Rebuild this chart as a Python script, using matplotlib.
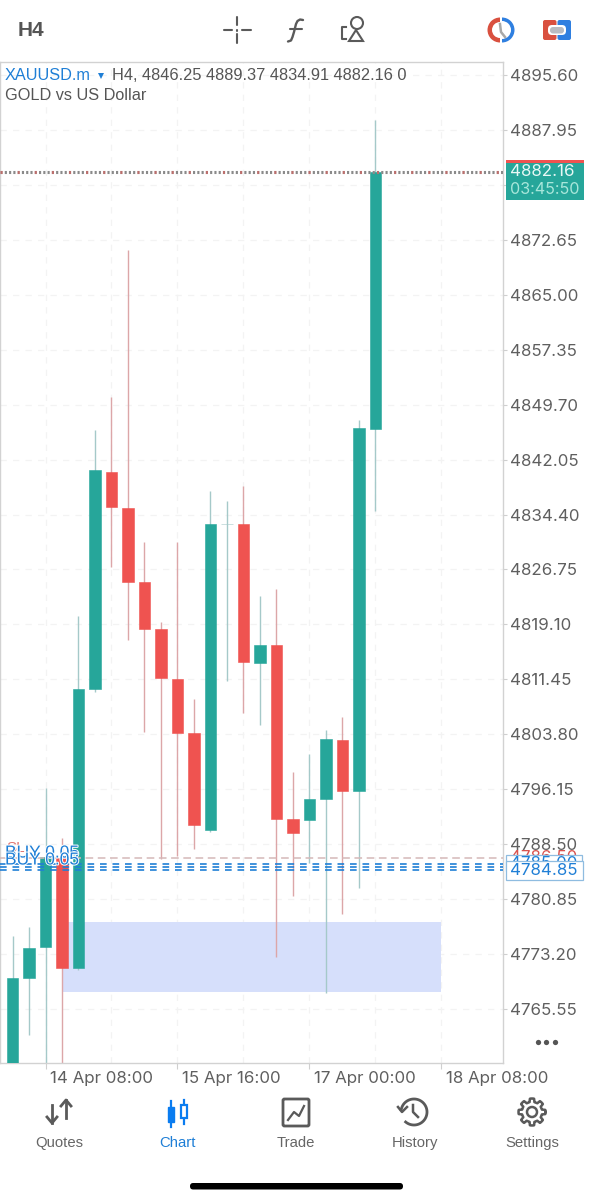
import numpy as np
import matplotlib as mpl
mpl.use('Agg')
import matplotlib.pyplot as plt
import matplotlib.patches as patches
import matplotlib.patheffects as pe

# candles, H4
opens  = [4750.00,4769.80,4774.18,4786.55,4771.26,4810.11,4840.32,4835.31,4825.00,4818.46,4811.50,4803.98,
          4790.47,4833.10,4833.08,4813.73,4816.23,4792.01,4791.87,4794.79,4803.01,4795.90,4846.25]
highs  = [4775.71,4776.97,4796.32,4789.36,4820.27,4846.17,4850.76,4871.23,4830.57,4819.44,4830.57,4808.71,
          4837.68,4836.28,4838.37,4823.06,4824.03,4798.55,4801.06,4804.40,4806.21,4847.56,4889.37]
lows   = [4750.00,4761.93,4750.00,4750.00,4771.00,4809.69,4827.09,4816.93,4804.12,4786.44,4786.85,4787.83,
          4790.20,4811.22,4806.76,4805.09,4772.79,4781.28,4785.88,4767.78,4778.78,4782.40,4834.91]
closes = [4769.87,4774.11,4786.71,4771.26,4810.11,4840.60,4835.45,4825.00,4818.46,4811.64,4803.98,4791.17,
          4833.08,4833.14,4813.87,4816.23,4792.01,4790.06,4794.79,4803.14,4795.90,4846.45,4882.16]

price_ticks = [4895.60,4887.95,4880.30,4872.65,4865.00,4857.35,4849.70,4842.05,4834.40,4826.75,
               4819.10,4811.45,4803.80,4796.15,4788.50,4780.85,4773.20,4765.55]
time_pos    = [2,10,18,26]
time_labels = ['14 Apr 08:00','15 Apr 16:00','17 Apr 00:00','18 Apr 08:00']
grid_pos    = [2,6,10,14,18,22,26]

zone_x   = [3,26]
zone_y   = [4767.92,4777.60]
sl_price = 4786.60
buy_prices = [4785.74,4785.32,4784.85]

GREEN='#26a69a'
RED='#ef5350'
GREEN_W='#a5c9c9'
RED_W='#dca6a8'
BLUE='#1f7fd6'
GREY='#5f5f5f'
SANS='Liberation Sans'

fig = plt.figure(figsize=(5.91,12),dpi=100,facecolor='white')
ax = fig.add_axes([0,(1200-1063)/1200,503/591,(1063-62)/1200])
ax.set_xlim(-0.758,29.73)
ax.set_ylim(4758.03,4897.41)

ax.yaxis.tick_right()
ax.set_yticks(price_ticks)
ax.set_yticklabels(['%.2f'%p for p in price_ticks],family='Inter',fontsize=12.2,color=GREY)
ax.set_xticks(time_pos)
ax.set_xticklabels(time_labels,family='Inter',fontsize=12.2,color=GREY,ha='left')
ax.tick_params(axis='y',length=3,width=0.8,color='#cfcfcf',pad=2.2)
ax.tick_params(axis='x',length=4,width=0.8,color='#cfcfcf',pad=2)
for lab in ax.get_xticklabels():
    lab.set_transform(lab.get_transform()+mpl.transforms.ScaledTranslation(4.5/100,0,fig.dpi_scale_trans))
for s in ax.spines.values():
    s.set_color('#d2d2d2')
    s.set_linewidth(1.0)

for y in price_ticks:
    ax.axhline(y,color='#f3f3f3',lw=0.9,ls=(0,(5,5)),zorder=0)
for x in grid_pos:
    ax.axvline(x,color='#f3f3f3',lw=0.9,ls=(0,(5,5)),zorder=0)

ax.fill_between(zone_x,zone_y[0],zone_y[1],color='#d6dffb',lw=0,zorder=1)

idx = np.arange(len(opens))
o = np.array(opens)
c = np.array(closes)
up = c>=o
wick_cols = [GREEN_W if u else RED_W for u in up]
ax.vlines(idx,lows,highs,colors=wick_cols,lw=1.0,zorder=2)
body_cols = [GREEN if u else RED for u in up]
body_cols[13] = GREEN_W   # doji
ax.bar(idx,np.abs(c-o),bottom=np.minimum(o,c),width=0.7,color=body_cols,edgecolor=body_cols,lw=0.4,zorder=3)

ax.axhline(closes[-1],color='#8a8a8a',lw=2.2,ls=(0,(0.7,0.7)),zorder=4)
ax.axhline(closes[-1],color=RED,lw=2.2,ls=(0,(0.7,4.9)),alpha=0.5,zorder=4)
ax.axhline(sl_price,color='#d5b8b8',lw=1.1,ls=(0,(5,3)),zorder=4)
for p in buy_prices:
    ax.axhline(p,color=BLUE,lw=1.2,ls=(0,(4,3.5)),zorder=4)

# everything else in screen pixels
ui = fig.add_axes([0,0,1,1],facecolor='none')
ui.set_xlim(0,591)
ui.set_ylim(1200,0)
ui.axis('off')

halo = [pe.withStroke(linewidth=1.4,foreground='white')]
ui.text(6,848,'SL',color='#d9534f',family=SANS,fontsize=11,va='center',alpha=0.8)
ui.text(5,853,'BUY 0.05',color=BLUE,family=SANS,fontsize=12.5,va='center',path_effects=halo)
ui.text(5,860,'BUY 0.05',color=BLUE,family=SANS,fontsize=12.5,va='center',path_effects=halo)

# header
ui.text(5,75,'XAUUSD.m',color=BLUE,family=SANS,fontsize=11.7,va='center')
ui.plot([101],[76],marker='v',ms=4.5,color=BLUE,mew=0)
ui.text(112,75,'H4, 4846.25 4889.37 4834.91 4882.16 0',color='#555555',family=SANS,fontsize=11.8,va='center')
ui.text(5,96,'GOLD vs US Dollar',color='#555555',family=SANS,fontsize=11.7,va='center')

# price tags
ui.add_patch(patches.Rectangle((506,160),78,40,fc=GREEN,ec='none',zorder=5))
ui.add_patch(patches.Rectangle((506,160),78,3,fc=RED,ec='none',zorder=6))
ui.text(510,171.5,'%.2f'%closes[-1],color='#e8f8f5',family='Inter',fontsize=12.2,va='center',zorder=7)
ui.text(510,189,'03:45:50',color='#a8e6da',family='Inter',fontsize=11.6,va='center',zorder=7)

ui.text(510,858,'4786.50',color='#d9534f',family='Inter',fontsize=12.2,va='center',zorder=5)
ui.add_patch(patches.Rectangle((506,854.5),76,16,fc='white',ec='#8fbce0',lw=0.9,zorder=6))
ui.text(510,864,'4785.00',color=BLUE,family='Inter',fontsize=12.2,va='center',zorder=7)
ui.add_patch(patches.Rectangle((506,861),77,19,fc='white',ec='#8fbce0',lw=0.9,zorder=8))
ui.text(510,870.5,'%.2f'%buy_prices[-1],color=BLUE,family='Inter',fontsize=12.2,va='center',zorder=9)

# three dots
ui.plot([538,546,555],[1042,1042,1042],ls='none',marker='o',ms=3.8,color='#555555',mew=0)

# top toolbar
ICON='#5a5a5a'
ui.text(18,30,'H4',color='#555555',family=['Liberation Sans Narrow',SANS],weight='bold',fontsize=15,va='center')
for seg in [((224,232),(30,30)),((242,251),(30,30)),((237,237),(17,25)),((237,237),(34,43)),((237,237),(29.5,30.5))]:
    ui.plot(seg[0],seg[1],color=ICON,lw=1.5,solid_capstyle='round')
ui.plot([303,300,297.5,296,294,292.5,291,288],[20,19.5,21,24,32,37,40.5,41.5],color=ICON,lw=1.7,solid_capstyle='round')
ui.plot([290,302],[29,29],color=ICON,lw=1.5,solid_capstyle='round')
ui.add_patch(patches.Circle((357,23),6,fc='none',ec=ICON,lw=1.5))
ui.add_patch(patches.Polygon([[356,30],[349,41],[363,41]],closed=True,fc='none',ec=ICON,lw=1.5))
ui.plot([346,341.5,341.5,346],[27,27,39,39],color=ICON,lw=1.5)

ui.add_patch(patches.Wedge((500,30),12.5,90,270,width=4.5,fc='#d9503f',ec='none'))
ui.add_patch(patches.Wedge((502,30),12.5,-90,90,width=3.5,fc='#2f7fe0',ec='none'))
ui.plot([500,501,505],[24,32,37],color='#a8a8a8',lw=1.8)

ui.add_patch(patches.FancyBboxPatch((543,20),13.5,20,boxstyle='round,pad=0,rounding_size=2',fc='#d9503f',ec='none'))
ui.add_patch(patches.FancyBboxPatch((557.5,20),13.5,20,boxstyle='round,pad=0,rounding_size=2',fc='#2f7fe0',ec='none'))
ui.add_patch(patches.FancyBboxPatch((548,25),18,10,boxstyle='round,pad=0,rounding_size=4',fc='white',ec='none'))
ui.add_patch(patches.FancyBboxPatch((550,27),14,6.5,boxstyle='round,pad=0,rounding_size=3',fc='#b9bcc2',ec='none'))

# bottom tabs
nav_x = [59,177,296,415,532]
nav_labels = ['Quotes','Chart','Trade','History','Settings']
nav_cols = ['#666666',BLUE,'#666666','#666666','#666666']
for x,t,col in zip(nav_x,nav_labels,nav_cols):
    ui.text(x,1143,t,color=col,family=SANS,fontsize=10.7,ha='center',va='center')

# quotes icon
ui.plot([52,52],[1105,1123],color=ICON,lw=2)
ui.plot([47,52,57],[1117,1123,1117],color=ICON,lw=2)
ui.plot([66,66],[1100,1118],color=ICON,lw=2)
ui.plot([61,66,71],[1106,1100,1106],color=ICON,lw=2)
# chart icon
TAB='#0a7cf0'
ui.plot([171,171],[1101,1127],color=TAB,lw=1.6)
ui.add_patch(patches.Rectangle((168,1107),6,15,fc=TAB,ec=TAB,lw=1))
ui.plot([184,184],[1100,1124],color=TAB,lw=1.6)
ui.add_patch(patches.Rectangle((181,1105),6,13,fc='white',ec=TAB,lw=1.6,zorder=3))
# trade icon
ui.add_patch(patches.FancyBboxPatch((283,1099),26,27,boxstyle='round,pad=0,rounding_size=1.5',fc='none',ec=ICON,lw=2))
ui.plot([288,294,299,304],[1120,1112,1116,1106],color=ICON,lw=1.6)
# history icon
t = np.radians(np.linspace(190,490,120))
ui.plot(414+13*np.cos(t),1112+13*np.sin(t),color=ICON,lw=2)
ui.plot([398,402,407],[1107,1112,1107],color=ICON,lw=1.8)
ui.plot([413,413,418],[1105,1112,1117],color=ICON,lw=1.8)
# settings icon
t = np.linspace(0,2*np.pi,241)
r = 11.8+1.7*np.clip(3*np.cos(8*t),-1,1)
ui.plot(532+r*np.cos(t),1112+r*np.sin(t),color=ICON,lw=1.8)
ui.add_patch(patches.Circle((532,1112),5,fc='none',ec=ICON,lw=1.8))

# home bar
ui.add_patch(patches.FancyBboxPatch((190,1183),213,6.5,boxstyle='round,pad=0,rounding_size=3.2',fc='black',ec='none'))

plt.savefig('out.png',dpi=100,facecolor='white')
plt.close()
